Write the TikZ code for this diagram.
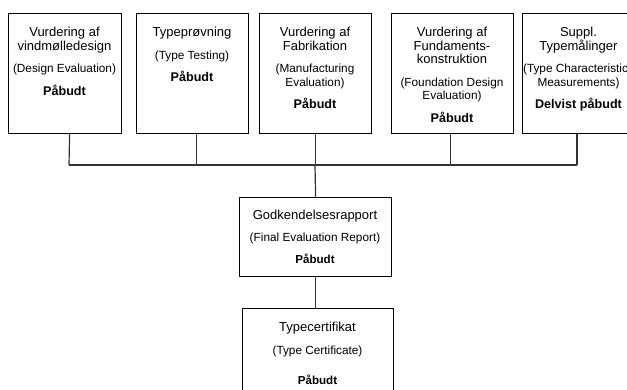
\documentclass[tikz,border=0pt]{standalone}
\usepackage{fontspec}
\setmainfont{Liberation Sans}
\begin{document}
\begin{tikzpicture}[x=1pt,y=-1pt,
  box/.style={draw=black,line width=1.2pt,minimum width=#1,inner sep=0pt,anchor=north west},
  txt/.style={align=center,inner sep=0pt,anchor=north,font=\fontsize{13}{13.5}\selectfont},
  conn/.style={draw=black!80,line width=1.2pt},
  pf/.style={},
]
\useasboundingbox (0,0) rectangle (627,389);
\clip (0,0) rectangle (627,389);
\newcommand{\pr}[1]{{\fontsize{11.8}{13.5}\selectfont #1}}
\newcommand{\pb}[1]{{\fontsize{12.6}{13.5}\selectfont\bfseries #1}}
\newcommand{\ps}[1]{{\fontsize{11.6}{13.5}\selectfont\bfseries #1}}
% top boxes
\node[box=113pt,minimum height=120pt] (b1) at (8,13) {};
\node[box=112pt,minimum height=120pt] (b2) at (136,13) {};
\node[box=112pt,minimum height=120pt] (b3) at (259,13) {};
\node[box=122pt,minimum height=120pt] (b4) at (391,13) {};
\node[box=113pt,minimum height=120pt] (b5) at (522,13) {};
% bottom boxes
\node[box=152pt,minimum height=79pt] (b6) at (239,197) {};
\node[box=151pt,minimum height=100pt] (b7) at (242,308) {};
% texts
\node[txt] (t1) at (64.5,27) {Vurdering af\\vindmølledesign\\[9pt]\pr{(Design Evaluation)}\\[9pt]\pb{Påbudt}};
\node[txt] (t2) at (192,27) {Typeprøvning\\[9pt]\pr{(Type Testing)}\\[9pt]\pb{Påbudt}};
\node[txt] (t3) at (315,27) {Vurdering af\\Fabrikation\\[9pt]\pr{(Manufacturing}\\\pr{Evaluation)}\\[9pt]\pb{Påbudt}};
\node[txt] (t4) at (452,27) {Vurdering af\\Fundaments-\\konstruktion\\[9pt]\pr{(Foundation Design}\\\pr{Evaluation)}\\[9pt]\pb{Påbudt}};
\node[txt] (t5) at (578.5,27) {Suppl.\\Typemålinger\\[9pt]\pr{(Type Characteristics}\\\pr{Measurements)}\\[9pt]\pb{Delvist påbudt}};
\node[txt] (t6) at (315,209.5) {Godkendelsesrapport\\[9pt]\pr{(Final Evaluation Report)}\\[8.5pt]\ps{Påbudt}};
\node[txt] (t7) at (317.5,321.5) {Typecertifikat\\[10pt]\pr{(Type Certificate)}\\[16pt]\ps{Påbudt}};
% connectors
\coordinate (busL) at (69,165);
\coordinate (busR) at (577,165);
\coordinate (busM) at (315,165);
\draw[conn] (busL) -- (busR);
\draw[conn] ([xshift=4.5]b1.south) -- (busL);
\draw[conn] ([xshift=4]b2.south) -- ([xshift=4]b2.south |- busM);
\draw[conn] (b3.south) -- (b3.south |- busM);
\draw[conn] ([xshift=-2]b4.south) -- ([xshift=-2]b4.south |- busM);
\draw[conn] (busR) -- (busR |- b5.south);
\draw[conn] (busM) -- (b6.north);
\draw[conn] (b6.south) -- (b6.south |- b7.north);
\end{tikzpicture}
\end{document}
